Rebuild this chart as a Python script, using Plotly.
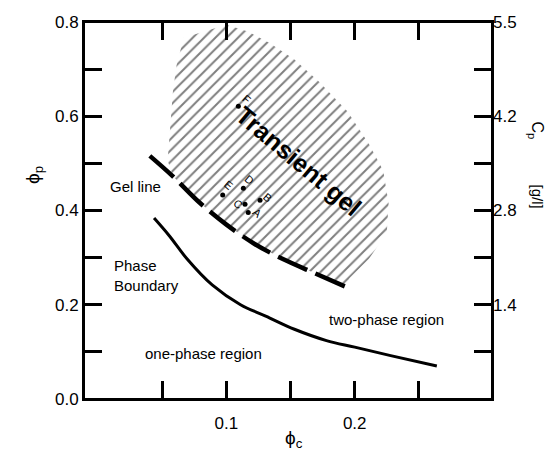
import plotly.graph_objects as go

# ---- data ----
phase_x = [0.0436, 0.0556, 0.0694, 0.0889, 0.111, 0.1306, 0.153, 0.178, 0.200, 0.228, 0.264]
phase_y = [0.384, 0.346, 0.297, 0.242, 0.200, 0.176, 0.148, 0.124, 0.110, 0.092, 0.070]

gel_x = [0.0403, 0.0583, 0.079, 0.100, 0.122, 0.144, 0.168, 0.193]
gel_y = [0.516, 0.4725, 0.417, 0.370, 0.329, 0.297, 0.268, 0.238]

hatch_x = [0.0667, 0.100, 0.1167, 0.1333, 0.1528, 0.1722, 0.1944, 0.2111, 0.2222, 0.2264,
           0.225, 0.211, 0.196, 0.193, 0.168, 0.144, 0.122, 0.100, 0.079, 0.0583,
           0.0542, 0.0556, 0.0569, 0.0583, 0.0611]
hatch_y = [0.7665, 0.794, 0.780, 0.756, 0.721, 0.673, 0.610, 0.541, 0.485, 0.4156,
           0.353, 0.297, 0.256, 0.238, 0.268, 0.297, 0.329, 0.370, 0.417, 0.4725,
           0.506, 0.5545, 0.603, 0.652, 0.7075]

pts_label = ["A", "B", "C", "D", "E", "F"]
pts_x = [0.117, 0.1262, 0.1145, 0.1132, 0.0971, 0.1093]
pts_y = [0.396, 0.422, 0.4135, 0.447, 0.433, 0.621]
pts_dx = [9, 7, -7, 6, 6, 8]
pts_dy = [-1, 3, 0, 8, 10, 7]

x_range = [-0.011, 0.307]
y_range = [0.0, 0.8]
cp_range = [0.0, 5.6]
x_tickvals = [0.05, 0.10, 0.15, 0.20, 0.25]
x_ticktext = ["", "0.1", "", "0.2", ""]
y_tickvals = [0.0, 0.1, 0.2, 0.3, 0.4, 0.5, 0.6, 0.7, 0.8]
y_ticktext = ["0.0", "", "0.2", "", "0.4", "", "0.6", "", "0.8"]
cp_tickvals = [1.4, 2.8, 4.2, 5.6]
cp_ticktext = ["1.4", "2.8", "4.2", "5.5"]

FONT = "Liberation Sans, Arial, Helvetica, sans-serif"

# page body has an 8px default margin; compensate so the plot lands where the reference has it
OFF = 8
W, H = 558 - OFF, 468 - OFF
L, T = 84 - OFF, 14
PW, PH = 408, 377
R = W - L - PW
B = H - T - PH

fig = go.Figure()

# hatched transient-gel region
fig.add_trace(go.Scatter(
    x=hatch_x, y=hatch_y, mode="lines", fill="toself",
    line=dict(width=0, color="rgba(0,0,0,0)"),
    fillcolor="white",
    fillpattern=dict(shape="/", fgcolor="black", bgcolor="white", size=8, solidity=0.25),
    hoverinfo="skip", showlegend=False,
))

# phase boundary
fig.add_trace(go.Scatter(
    x=phase_x, y=phase_y, mode="lines", line=dict(color="black", width=3, shape="spline"),
    showlegend=False,
))

# gel line
fig.add_trace(go.Scatter(
    x=gel_x, y=gel_y, mode="lines",
    line=dict(color="black", width=4.5, dash="32px,9px", shape="spline"),
    showlegend=False,
))

# sample points
fig.add_trace(go.Scatter(
    x=pts_x, y=pts_y, mode="markers",
    marker=dict(color="black", size=5),
    showlegend=False,
))

# dummy trace for right axis
fig.add_trace(go.Scatter(x=[0.1], y=[1.0], yaxis="y2", mode="markers",
                         marker=dict(opacity=0), showlegend=False, hoverinfo="skip"))

annotations = []
for lab, x, y, dx, dy in zip(pts_label, pts_x, pts_y, pts_dx, pts_dy):
    annotations.append(dict(x=x, y=y, xref="x", yref="y", text=lab, showarrow=False,
                            xshift=dx, yshift=dy, textangle=40,
                            font=dict(family=FONT, size=11, color="black")))

annotations += [
    dict(x=0.1566, y=0.506, xref="x", yref="y", text="<b>Transient gel</b>", showarrow=False,
         textangle=40, font=dict(family=FONT, size=25, color="black")),
    dict(x=0.0292, y=0.450, xref="x", yref="y", text="Gel line", showarrow=False,
         font=dict(family=FONT, size=15, color="black")),
    dict(x=0.0107, y=0.262, xref="x", yref="y", text="Phase<br>Boundary", showarrow=False,
         xanchor="left", align="left", font=dict(family=FONT, size=15, color="black")),
    dict(x=0.2244, y=0.169, xref="x", yref="y", text="two-phase region", showarrow=False,
         font=dict(family=FONT, size=15, color="black")),
    dict(x=0.0825, y=0.0958, xref="x", yref="y", text="one-phase region", showarrow=False,
         font=dict(family=FONT, size=15, color="black")),
]

# axis titles placed at page-pixel positions
titles = [
    (20, 175, "ϕ<sub>p</sub>", -90, 19),
    (294, 453, "ϕ<sub>c</sub>", 0, 19),
    (548, 119, "C<sub>p</sub>", 90, 16),
    (548, 196, "[g/l]", 90, 15),
]
for px, py, txt, ang, sz in titles:
    annotations.append(dict(
        x=(px - OFF - L) / PW, y=(H - B - (py - OFF)) / PH,
        xref="paper", yref="paper", text=txt, showarrow=False, textangle=ang,
        font=dict(family=FONT, size=sz, color="black")))

fig.update_layout(
    width=W, height=H,
    margin=dict(l=L, r=R, t=T, b=B, pad=0, autoexpand=False),
    paper_bgcolor="white", plot_bgcolor="white",
    font=dict(family=FONT, size=17, color="black"),
    showlegend=False,
    xaxis=dict(range=x_range, tickvals=x_tickvals, ticktext=x_ticktext,
               ticks="inside", ticklen=18, tickwidth=2.5, tickcolor="black",
               showline=True, linecolor="black", linewidth=2, mirror="ticks",
               showgrid=False, zeroline=False, ticklabelstandoff=8,
               tickfont=dict(family=FONT, size=17)),
    yaxis=dict(range=y_range, tickvals=y_tickvals, ticktext=y_ticktext,
               ticks="inside", ticklen=18, tickwidth=2.5, tickcolor="black",
               showline=True, linecolor="black", linewidth=2, mirror="ticks",
               showgrid=False, zeroline=False, ticklabeloverflow="allow",
               tickfont=dict(family=FONT, size=17)),
    yaxis2=dict(range=cp_range, overlaying="y", side="right",
                tickvals=cp_tickvals, ticktext=cp_ticktext, ticks="",
                showline=False, showgrid=False, zeroline=False, ticklabeloverflow="allow",
                tickfont=dict(family=FONT, size=17)),
    shapes=[dict(type="rect", xref="paper", yref="paper", x0=0, x1=1, y0=0, y1=1,
                 line=dict(color="black", width=2), layer="above")],
    annotations=annotations,
)

fig.write_html("out.html")
